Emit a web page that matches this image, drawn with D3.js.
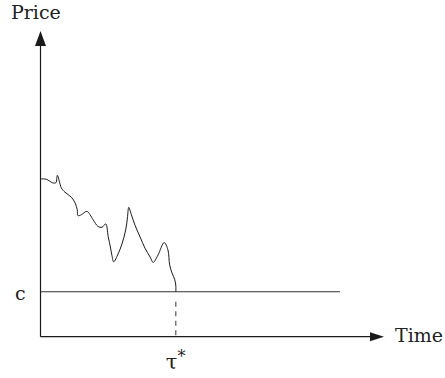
<!DOCTYPE html>
<html>
<head>
<meta charset="utf-8">
<script src="https://cdn.jsdelivr.net/npm/d3@7"></script>
<style>
  body { margin: 0; background: #fff; }
  svg text { font-family: "DejaVu Serif", "Liberation Serif", serif; fill: #222; }
</style>
</head>
<body>
<svg id="chart" width="445" height="378"></svg>
<script>
// price path, time / price in arbitrary units (axis runs 0..10 on both)
var times = [0.02, 0.17, 0.36, 0.45, 0.49, 0.61, 0.71, 0.90, 1.01, 1.07, 1.09, 1.19, 1.35, 1.53, 1.67, 1.79, 1.90,
  1.97, 2.04, 2.08, 2.13, 2.26, 2.37, 2.48, 2.53, 2.57, 2.64, 2.75, 2.90, 3.04, 3.19, 3.28, 3.42, 3.60,
  3.71, 3.76, 3.83, 3.91, 3.94, 3.94];
var prices = [5.16, 5.15, 5.03, 5.04, 5.28, 4.86, 4.73, 4.56, 4.37, 4.15, 3.96, 3.99, 4.10, 3.83, 3.61, 3.58, 3.69,
  3.28, 2.90, 2.66, 2.45, 2.71, 3.03, 3.49, 3.88, 4.23, 4.01, 3.65, 3.26, 2.90, 2.61, 2.43, 2.67, 3.08,
  2.84, 2.35, 2.08, 1.86, 1.66, 1.47];
var barrier = 1.47;      // c
var barrierEnd = 8.72;   // where the c line stops
var tauStar = 3.94;      // first hitting time
var axisLabels = ['Price', 'Time'];

var svg = d3.select('#chart');

var x = d3.scaleLinear().domain([0, 10]).range([40.5, 384]);
var y = d3.scaleLinear().domain([0, 10]).range([336.7, 31]);

var ink = '#1a1a1a';

// axes
svg.append('line')
  .attr('x1', x(0)).attr('y1', y(0))
  .attr('x2', x(0)).attr('y2', y(10) + 10)
  .attr('stroke', ink).attr('stroke-width', 1.2);
svg.append('line')
  .attr('x1', x(0)).attr('y1', y(0))
  .attr('x2', x(10) - 10).attr('y2', y(0))
  .attr('stroke', ink).attr('stroke-width', 1.2);

// arrow heads
svg.append('path')
  .attr('d', 'M' + x(0) + ',' + y(10) + 'L' + (x(0) - 5.5) + ',' + (y(10) + 15) + 'L' + (x(0) + 5.5) + ',' + (y(10) + 15) + 'Z')
  .attr('fill', ink);
svg.append('path')
  .attr('d', 'M' + x(10) + ',' + y(0) + 'L' + (x(10) - 14) + ',' + (y(0) - 4.5) + 'L' + (x(10) - 14) + ',' + (y(0) + 4.5) + 'Z')
  .attr('fill', ink);

// barrier c
svg.append('line')
  .attr('x1', x(0)).attr('y1', y(barrier))
  .attr('x2', x(barrierEnd)).attr('y2', y(barrier))
  .attr('stroke', '#333').attr('stroke-width', 1);

// dashed drop at tau*
svg.append('line')
  .attr('x1', x(tauStar)).attr('y1', y(barrier) + 10)
  .attr('x2', x(tauStar)).attr('y2', y(0) - 1)
  .attr('stroke', '#333').attr('stroke-width', 1)
  .attr('stroke-dasharray', '5,4.5');

// price path
var pts = times.map(function (t, i) { return [t, prices[i]]; });
var line = d3.line()
  .x(function (d) { return x(d[0]); })
  .y(function (d) { return y(d[1]); })
  .curve(d3.curveCatmullRom.alpha(0.5));
svg.append('path')
  .datum(pts)
  .attr('d', line)
  .attr('fill', 'none')
  .attr('stroke', ink)
  .attr('stroke-width', 1);

// labels
svg.append('text').attr('x', 11).attr('y', 19).attr('font-size', 19).text(axisLabels[0]);
svg.append('text').attr('x', 395).attr('y', 341.7).attr('font-size', 19).text(axisLabels[1]);
svg.append('text').attr('x', 15).attr('y', y(barrier) + 8.5).attr('font-size', 19).text('c');
var tau = svg.append('text').attr('x', x(tauStar) - 10).attr('y', 369)
  .attr('font-size', 21);
tau.append('tspan').text('τ');
tau.append('tspan').attr('dy', -7).attr('font-size', 16).text('*');
</script>
</body>
</html>
